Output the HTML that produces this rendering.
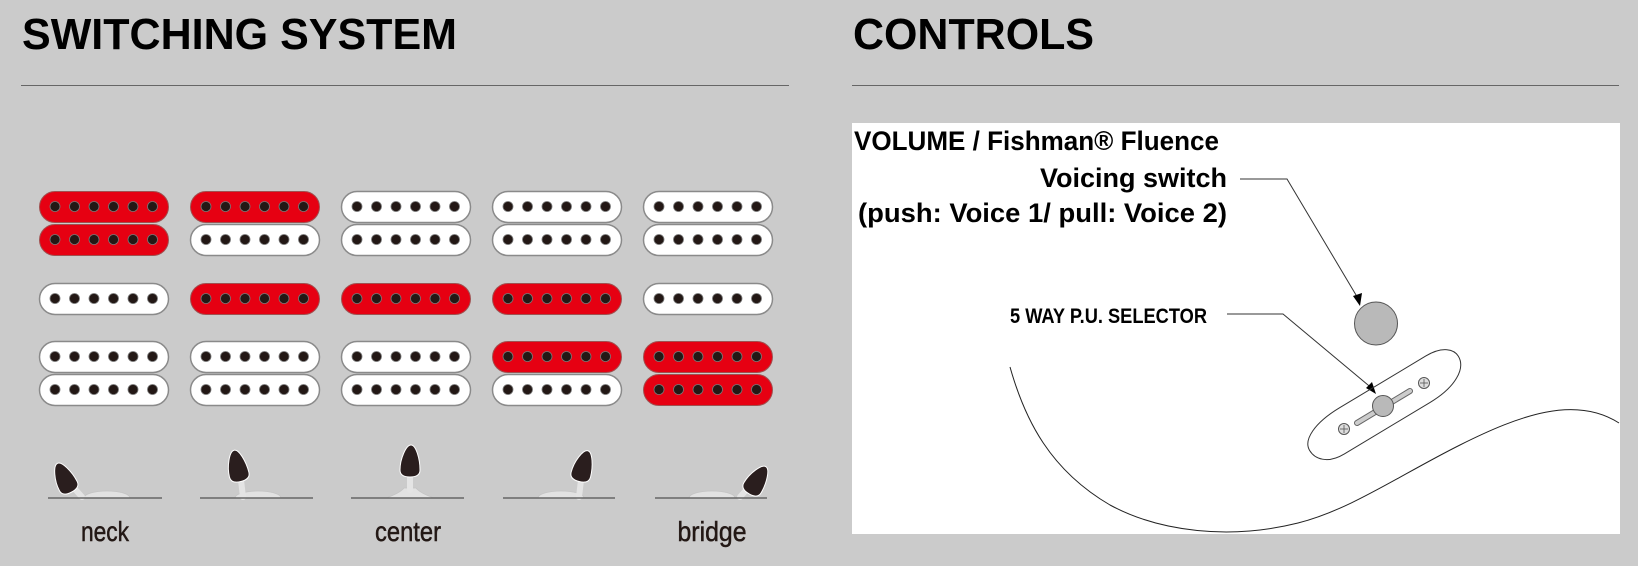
<!DOCTYPE html>
<html><head><meta charset="utf-8"><style>
html,body{margin:0;padding:0;background:#cbcbcb;}
svg{display:block;}
</style></head><body>
<svg width="1638" height="566" viewBox="0 0 1638 566" xmlns="http://www.w3.org/2000/svg">
<defs>
  <g id="dots" fill="#231815" stroke="#777" stroke-width="0.8">
    <circle cx="16" cy="15.5" r="5"/><circle cx="35.5" cy="15.5" r="5"/><circle cx="55" cy="15.5" r="5"/>
    <circle cx="74.5" cy="15.5" r="5"/><circle cx="94" cy="15.5" r="5"/><circle cx="113.5" cy="15.5" r="5"/>
  </g>
  <g id="pw"><rect x="0.5" y="0.5" width="129" height="31" rx="15.5" fill="#fff" stroke="#8a8a8a" stroke-width="1.5"/><use href="#dots"/></g>
  <g id="pr"><rect x="0.5" y="0.5" width="129" height="31" rx="15.5" fill="#e60012" stroke="#a05050" stroke-width="1"/><use href="#dots"/></g>
  <path id="knob" d="M1,-16 C6,-16 10,-2 10,9 C10,14 6,16 0,16 C-6,16 -10,14 -10,9 C-10,-2 -4,-16 1,-16 Z" fill="#2a1e1e" stroke="#fff" stroke-width="1"/>
</defs>

<rect width="1638" height="566" fill="#cbcbcb"/>
<text x="22" y="49" font-family="Liberation Sans, sans-serif" font-weight="bold" font-size="44" textLength="435" lengthAdjust="spacingAndGlyphs" fill="#000">SWITCHING SYSTEM</text>
<line x1="21" y1="85.5" x2="789" y2="85.5" stroke="#666" stroke-width="1"/>
<text x="853" y="49" font-family="Liberation Sans, sans-serif" font-weight="bold" font-size="44" textLength="241" lengthAdjust="spacingAndGlyphs" fill="#000">CONTROLS</text>
<line x1="852" y1="85.5" x2="1619" y2="85.5" stroke="#666" stroke-width="1"/>

<g transform="translate(39,0)">
  <use href="#pr" y="191"/><use href="#pr" y="224"/><use href="#pw" y="283"/><use href="#pw" y="341"/><use href="#pw" y="374"/>
</g>
<g transform="translate(190,0)">
  <use href="#pr" y="191"/><use href="#pw" y="224"/><use href="#pr" y="283"/><use href="#pw" y="341"/><use href="#pw" y="374"/>
</g>
<g transform="translate(341,0)">
  <use href="#pw" y="191"/><use href="#pw" y="224"/><use href="#pr" y="283"/><use href="#pw" y="341"/><use href="#pw" y="374"/>
</g>
<g transform="translate(492,0)">
  <use href="#pw" y="191"/><use href="#pw" y="224"/><use href="#pr" y="283"/><use href="#pr" y="341"/><use href="#pw" y="374"/>
</g>
<g transform="translate(643,0)">
  <use href="#pw" y="191"/><use href="#pw" y="224"/><use href="#pw" y="283"/><use href="#pr" y="341"/><use href="#pr" y="374"/>
</g>

<g fill="#e2e2e2" stroke="#c4c4c4" stroke-width="0.8">
  <path d="M84,498 A23,7 0 0 1 130,498 Z"/>
  <path d="M235,498 A23,7 0 0 1 281,498 Z"/>
  <path d="M386,498 Q400,493 404,488 L416,488 Q420,493 434,498 Z"/>
  <path d="M538,498 A23,7 0 0 1 584,498 Z"/>
  <path d="M689,498 A23,7 0 0 1 735,498 Z"/>
</g>
<g stroke="#e4e4e4" stroke-width="6" stroke-linecap="round">
  <line x1="74" y1="488" x2="82" y2="497"/>
  <line x1="241" y1="480" x2="243" y2="497"/>
  <line x1="410" y1="475" x2="410" y2="490"/>
  <line x1="581" y1="480" x2="579" y2="497"/>
  <line x1="748" y1="488" x2="740" y2="497"/>
</g>
<use href="#knob" transform="translate(64,478) rotate(-28)"/>
<use href="#knob" transform="translate(237,466) rotate(-14)"/>
<use href="#knob" transform="translate(410,461)"/>
<use href="#knob" transform="translate(583,466) rotate(14)"/>
<use href="#knob" transform="translate(757,480) rotate(30)"/>
<g stroke="#666" stroke-width="1.5">
  <line x1="48" y1="498" x2="162" y2="498"/>
  <line x1="200" y1="498" x2="313" y2="498"/>
  <line x1="351" y1="498" x2="464" y2="498"/>
  <line x1="503" y1="498" x2="615" y2="498"/>
  <line x1="655" y1="498" x2="767" y2="498"/>
</g>
<g font-family="Liberation Sans Narrow, Liberation Sans, sans-serif" font-size="28" fill="#231815" stroke="#231815" stroke-width="0.5" text-anchor="middle">
  <text x="105" y="541" textLength="48" lengthAdjust="spacingAndGlyphs">neck</text>
  <text x="408" y="541" textLength="66" lengthAdjust="spacingAndGlyphs">center</text>
  <text x="712" y="541" textLength="69" lengthAdjust="spacingAndGlyphs">bridge</text>
</g>

<rect x="852" y="123" width="768" height="411" fill="#fff"/>
<g font-family="Liberation Sans Narrow, Liberation Sans, sans-serif" font-weight="bold" fill="#000">
  <text x="854" y="150" font-size="27" textLength="365" lengthAdjust="spacingAndGlyphs">VOLUME / Fishman® Fluence</text>
  <text x="1040" y="187" font-size="27" textLength="187" lengthAdjust="spacingAndGlyphs">Voicing switch</text>
  <text x="858" y="222" font-size="27" textLength="369" lengthAdjust="spacingAndGlyphs">(push: Voice 1/ pull: Voice 2)</text>
  <text x="1010" y="323" font-size="21" textLength="197" lengthAdjust="spacingAndGlyphs">5 WAY P.U. SELECTOR</text>
</g>
<g fill="none" stroke="#333" stroke-width="1">
  <polyline points="1240,179 1287,179 1359,300"/>
  <polyline points="1227,314 1283,314 1374,390"/>
</g>
<path d="M1360,306 L1353,296 L1362,293 Z" fill="#000"/>
<path d="M1376,394 L1366,388 L1372,382 Z" fill="#000"/>
<circle cx="1376" cy="323.5" r="21.5" fill="#b9b9b9" stroke="#555" stroke-width="1"/>
<path d="M-88,0 C-88,-12 -70,-21 -40,-21 L60,-21 C80,-21 88,-12 88,-4 C88,10 70,21 40,21 L-60,21 C-80,21 -88,10 -88,0 Z" transform="translate(1385,405) rotate(-31)" fill="none" stroke="#333" stroke-width="1"/>
<line x1="1357" y1="423" x2="1410" y2="391" stroke="#666" stroke-width="6" stroke-linecap="round"/>
<line x1="1357" y1="423" x2="1410" y2="391" stroke="#ccc" stroke-width="4" stroke-linecap="round"/>
<circle cx="1383" cy="406" r="10.5" fill="#b9b9b9" stroke="#555" stroke-width="1"/>
<g fill="#ddd" stroke="#555" stroke-width="1">
  <circle cx="1344" cy="429" r="5.5"/><circle cx="1424" cy="383" r="5.5"/>
</g>
<g stroke="#555" stroke-width="0.8">
  <line x1="1340" y1="429" x2="1348" y2="429"/><line x1="1344" y1="425" x2="1344" y2="433"/>
  <line x1="1420" y1="383" x2="1428" y2="383"/><line x1="1424" y1="379" x2="1424" y2="387"/>
</g>
<path d="M1010,367 C1025,420 1050,470 1110,505 C1160,532 1230,540 1298,523 C1350,510 1400,475 1460,445 C1520,415 1575,395 1619,423" fill="none" stroke="#222" stroke-width="1"/>
</svg>
</body></html>
